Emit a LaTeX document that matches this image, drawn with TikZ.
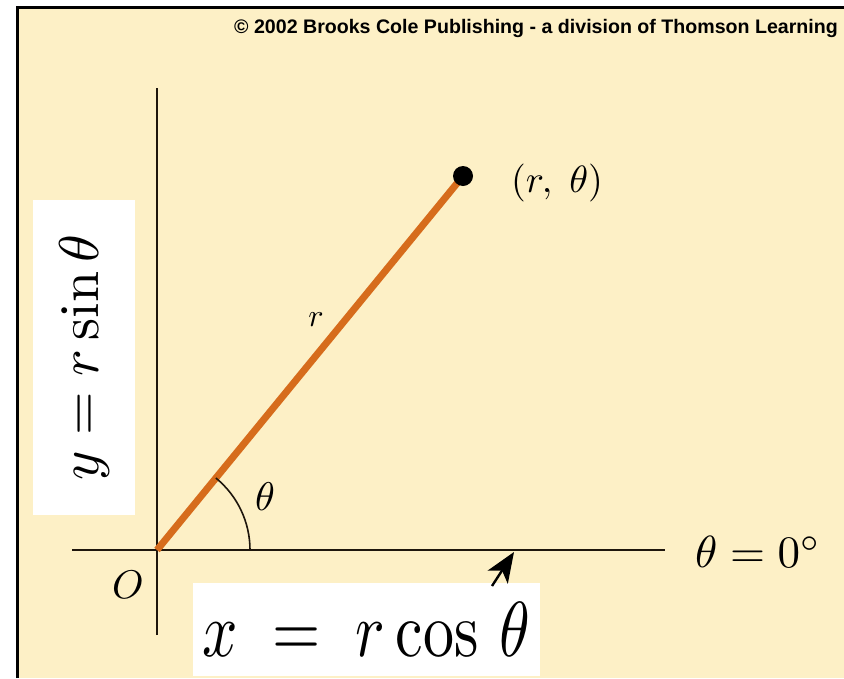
\documentclass[tikz,border=0pt]{standalone}
\usepackage{fontspec}
\newfontfamily\arialf{Liberation Sans}
\usetikzlibrary{arrows.meta}
\definecolor{cream}{RGB}{253,240,198}
\definecolor{rodcol}{RGB}{214,108,28}
\definecolor{axiscol}{RGB}{30,22,12}
\begin{document}
\begin{tikzpicture}[x=1pt,y=-1pt,
  axis/.style={line width=2.4pt,draw=axiscol},
  lbl/.style={inner sep=0pt,text=black},
  whitebox/.style={fill=white,inner sep=0pt}]
\useasboundingbox (0,0) rectangle (844,678);
\fill[white] (0,0) rectangle (844,678);
\fill[cream] (17,7) rectangle (844,678);
\draw[line width=3pt] (17,678) -- (17,7) -- (844,7);
% copyright
\node[lbl,anchor=east] (copy) at (838,28) {\arialf\bfseries\fontsize{19.6}{22}\selectfont \textcopyright{} 2002 Brooks Cole Publishing - a division of Thomson Learning};
% axes
\coordinate (O) at (157,550);
\coordinate (ytop) at (157,88);
\coordinate (ybot) at (157,635);
\coordinate (xl) at (72,550);
\coordinate (xr) at (665,550);
\coordinate (P) at (463,176);
\draw[axis] (ybot) -- (ytop);
\draw[axis] (xl) -- (xr);
% rod
\draw[rodcol,line width=7pt] (O) -- (P);
\fill[black] (P) circle[radius=10pt];
% angle arc
\coordinate (arcstart) at (250,550);
\draw[line width=1.6pt,axiscol] (arcstart) arc[start angle=0,end angle=-50.7,radius=93];
% labels
\node[lbl] (pt) at (557,183) {\scalebox{3.8}{$(r,\;\theta)$}};
\node[lbl] (rl) at (316,320) {\scalebox{3.2}{$r$}};
\node[lbl] (th) at (265,497) {\scalebox{4}{$\theta$}};
\node[lbl] (Ol) at (128,585) {\scalebox{4}{$O$}};
\node[lbl] (zero) at (758,552) {\scalebox{4.5}{$\theta=0^\circ$}};
% white label boxes
\node[whitebox,minimum width=347pt,minimum height=93pt] (xbox) at (366.5,629.5)
  {\scalebox{6.2}[7.8]{$x\;=\;r\cos\,\theta$}};
\node[whitebox,minimum width=315pt,minimum height=102pt,rotate=90] (ybox) at (84,357.5)
  {\scalebox{5.6}{$y=r\sin\theta$}};
% arrow
\coordinate (arrtail) at (492,586);
\coordinate (arrhead) at (514,552);
\draw[line width=2.4pt,-{Stealth[length=30pt,width=24pt,inset=8pt]}] (arrtail) -- (arrhead);
\end{tikzpicture}
\end{document}
